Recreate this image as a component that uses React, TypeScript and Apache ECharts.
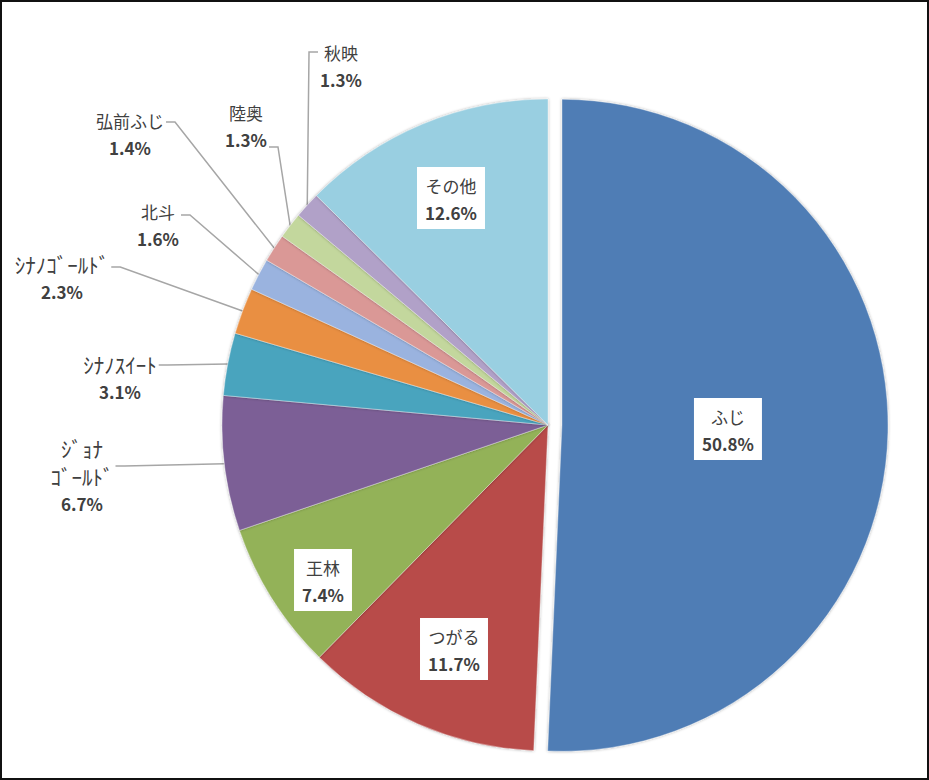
import * as echarts from "echarts"
import { useEffect, useRef } from "react"

// apple cultivar shares, clockwise from 12 o'clock
const NAMES = [
  "ふじ",
  "つがる",
  "王林",
  "ｼﾞｮﾅ\nｺﾞｰﾙﾄﾞ",
  "ｼﾅﾉｽｲｰﾄ",
  "ｼﾅﾉｺﾞｰﾙﾄﾞ",
  "北斗",
  "弘前ふじ",
  "陸奥",
  "秋映",
  "その他",
]
const SHARES = [50.8, 11.7, 7.4, 6.7, 3.1, 2.3, 1.6, 1.4, 1.3, 1.3, 12.6]
const COLORS = [
  "#4F7DB5",
  "#B84C4A",
  "#93B259",
  "#7B5F96",
  "#4AA4BE",
  "#E98F42",
  "#9AB3DF",
  "#DA9896",
  "#C3D79D",
  "#B1A1C8",
  "#99CFE1",
]
const INSIDE = [true, true, true, false, false, false, false, false, false, false, true]

// label block centre, side the leader line attaches to, and that line's y
const LABEL_POS: [number, number, "l" | "r", number][] = [
  [732, 410, "r", 0],
  [454, 649, "r", 0],
  [323, 580, "r", 0],
  [82, 475, "r", 466],
  [120, 377, "r", 365],
  [62, 277, "r", 267],
  [158, 225, "r", 215],
  [130, 134, "r", 122],
  [246, 126, "r", 147],
  [341, 66, "l", 52],
  [451, 198, "r", 0],
]

const HALF_KANA = /[\uFF61-\uFF9F]/

export default function App() {
  const ref = useRef<HTMLDivElement>(null)

  useEffect(() => {
    if (!ref.current) return
    const chart = echarts.init(ref.current, null, { renderer: "svg" })

    const data = SHARES.map((v, i) => ({
      name: NAMES[i],
      value: v,
      selected: i === 0,
      itemStyle: { color: COLORS[i] },
      label: INSIDE[i]
        ? { position: "inside", backgroundColor: "#fff", padding: [5, 8, 3, 8] }
        : { position: "outside" },
      labelLine: { show: !INSIDE[i] },
    }))

    const font = "Noto Sans CJK JP"
    chart.setOption({
      animation: false,
      backgroundColor: "#fff",
      series: [
        {
          type: "pie",
          center: [548, 425],
          radius: 326,
          startAngle: 90,
          clockwise: true,
          selectedMode: "single",
          selectedOffset: 14,
          avoidLabelOverlap: false,
          itemStyle: {
            borderColor: "rgba(255,255,255,0.35)",
            borderWidth: 1,
            shadowBlur: 3,
            shadowColor: "rgba(0,0,0,0.35)",
          },
          emphasis: { disabled: true },
          label: {
            formatter: (p: { name: string; value: number }) => {
              const st = HALF_KANA.test(p.name) ? "k" : "n"
              const rows = p.name.split("\n").map((r) => `{${st}|${r}}`)
              return `${rows.join("\n")}\n{p|${p.value.toFixed(1)}%}`
            },
            rich: {
              n: { fontFamily: font, fontSize: 17, color: "#404040", lineHeight: 27, align: "center" },
              k: { fontFamily: font, fontSize: 21, color: "#404040", lineHeight: 28, align: "center" },
              p: {
                fontFamily: font,
                fontSize: 17,
                fontWeight: "bold",
                color: "#404040",
                lineHeight: 27,
                align: "center",
              },
            },
          },
          labelLine: {
            lineStyle: { color: "#A6A6A6", width: 1.5 },
          },
          labelLayout: (params: any) => {
            const [x, y, side, ly] = LABEL_POS[params.dataIndex]
            const w = params.labelRect.width
            const out: any = { x, y, align: "center", verticalAlign: "middle" }
            const pts = params.labelLinePoints
            if (!INSIDE[params.dataIndex] && pts) {
              const ex = side === "r" ? x + w / 2 + 2 : x - w / 2 - 2
              const sx = side === "r" ? ex + 9 : ex - 9
              out.labelLinePoints = [pts[0], [sx, ly], [ex, ly]]
            }
            return out
          },
          data,
        },
      ],
    })

    return () => chart.dispose()
  }, [])

  return (
    <div style={{ position: "fixed", left: 0, top: 0, width: 929, height: 780, background: "#fff" }}>
      <div ref={ref} style={{ position: "absolute", left: 0, top: 0, width: 929, height: 780 }} />
      <div
        style={{
          position: "absolute",
          inset: 0,
          border: "2px solid #111",
          boxSizing: "border-box",
          pointerEvents: "none",
        }}
      />
    </div>
  )
}
